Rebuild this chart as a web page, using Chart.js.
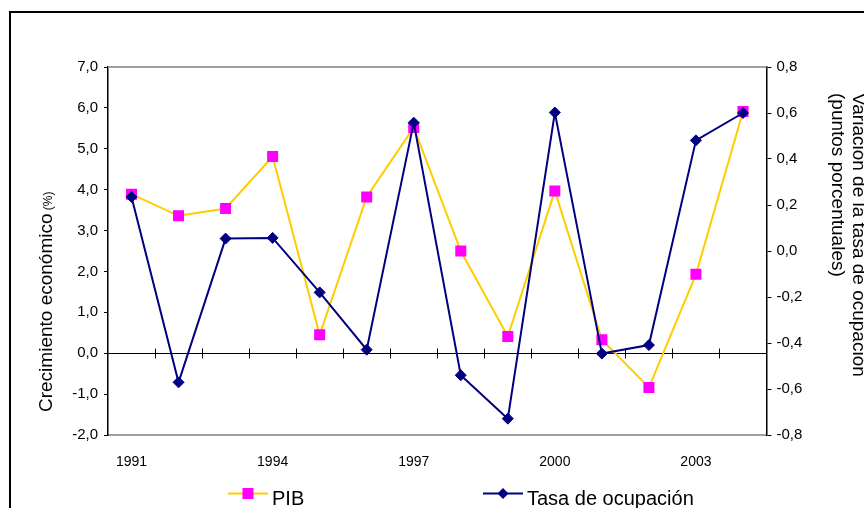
<!DOCTYPE html>
<html>
<head>
<meta charset="utf-8">
<script src="https://cdn.jsdelivr.net/npm/chart.js@4.4.1/dist/chart.umd.min.js"></script>
<style>
  html, body { margin: 0; padding: 0; background: #fff; }
</style>
</head>
<body>
<canvas id="chart" width="864" height="508"></canvas>
<script>
const years = ['1991', '1992', '1993', '1994', '1995', '1996', '1997', '1998', '1999', '2000', '2001', '2002', '2003', '2004'];
const shownYears = ['1991', '1994', '1997', '2000', '2003'];
const pib = [3.89, 3.36, 3.54, 4.81, 0.45, 3.82, 5.52, 2.50, 0.41, 3.97, 0.33, -0.84, 1.93, 5.91];
const tasa = [0.235, -0.571, 0.054, 0.057, -0.180, -0.429, 0.558, -0.540, -0.729, 0.602, -0.446, -0.409, 0.481, 0.600];
const leftRange = [-2, 7, 1];
const rightRange = [-0.8, 0.8, 0.2];

const FONT = '"Liberation Sans", Arial, sans-serif';
const comma = v => v.toFixed(1).replace('.', ',');

const decor = {
  id: 'decor',
  beforeDraw(chart) {
    const ctx = chart.ctx;
    ctx.save();
    ctx.fillStyle = '#fff';
    ctx.fillRect(0, 0, chart.width, chart.height);
    ctx.strokeStyle = '#000';
    ctx.lineWidth = 2;
    ctx.strokeRect(10, 12, 900, 600);
    ctx.restore();
  },
  beforeDatasetsDraw(chart) {
    const { ctx, chartArea: a, scales: { x, y } } = chart;
    ctx.save();
    // top edge of the plot area
    ctx.strokeStyle = '#a0a0a0';
    ctx.lineWidth = 2;
    ctx.beginPath();
    ctx.moveTo(a.left, a.top);
    ctx.lineTo(a.right, a.top);
    ctx.stroke();
    // zero line with a tick between every category
    const y0 = Math.round(y.getPixelForValue(0)) + 0.5;
    ctx.strokeStyle = '#000';
    ctx.lineWidth = 1;
    ctx.beginPath();
    ctx.moveTo(a.left, y0);
    ctx.lineTo(a.right, y0);
    for (let i = 0; i < years.length - 1; i++) {
      const px = Math.round((x.getPixelForValue(i) + x.getPixelForValue(i + 1)) / 2) + 0.5;
      ctx.moveTo(px, y0 - 5);
      ctx.lineTo(px, y0 + 5);
    }
    ctx.stroke();
    ctx.restore();
  },
  afterDraw(chart) {
    const ctx = chart.ctx;
    ctx.save();
    ctx.fillStyle = '#000';
    ctx.textAlign = 'left';
    ctx.textBaseline = 'alphabetic';

    // left axis title, with a smaller "(%)"
    ctx.save();
    ctx.translate(52, 412);
    ctx.rotate(-Math.PI / 2);
    ctx.font = '19px ' + FONT;
    const main = 'Crecimiento económico';
    ctx.fillText(main, 0, 0);
    const w = ctx.measureText(main).width;
    ctx.font = '12px ' + FONT;
    ctx.fillText(' (%)', w, 0);
    ctx.restore();

    // right axis title
    ctx.save();
    ctx.translate(0, 93);
    ctx.rotate(Math.PI / 2);
    ctx.font = '19px ' + FONT;
    ctx.fillText('Variación de la tasa de ocupación', 0, -853);
    ctx.fillText('(puntos porcentuales)', 0, -832);
    ctx.restore();

    // legend
    const items = [
      { ds: chart.data.datasets[0], x: 228 },
      { ds: chart.data.datasets[1], x: 483 }
    ];
    const ly = 493.5;
    items.forEach(it => {
      const ds = it.ds;
      ctx.strokeStyle = ds.borderColor;
      ctx.lineWidth = 2;
      ctx.beginPath();
      ctx.moveTo(it.x, ly);
      ctx.lineTo(it.x + 40, ly);
      ctx.stroke();
      const cx = it.x + 20;
      ctx.fillStyle = ds.pointBackgroundColor;
      if (ds.pointStyle === 'rect') {
        ctx.fillRect(cx - 5.5, ly - 5.5, 11, 11);
      } else {
        ctx.beginPath();
        ctx.moveTo(cx - 5.5, ly);
        ctx.lineTo(cx, ly - 5.5);
        ctx.lineTo(cx + 5.5, ly);
        ctx.lineTo(cx, ly + 5.5);
        ctx.closePath();
        ctx.fill();
      }
      ctx.fillStyle = '#000';
      ctx.font = '20px ' + FONT;
      ctx.fillText(ds.label, it.x + 44, 505);
    });
    ctx.restore();
  }
};

new Chart(document.getElementById('chart'), {
  type: 'line',
  data: {
    labels: years,
    datasets: [
      {
        label: 'PIB',
        data: pib,
        yAxisID: 'y',
        borderColor: '#FFCC00',
        borderWidth: 2,
        pointStyle: 'rect',
        pointRadius: 7.8,
        pointBackgroundColor: '#FF00FF',
        pointBorderColor: '#FF00FF',
        pointBorderWidth: 0,
        tension: 0,
        order: 2
      },
      {
        label: 'Tasa de ocupación',
        data: tasa,
        yAxisID: 'y1',
        borderColor: '#000080',
        borderWidth: 2,
        pointStyle: 'rectRot',
        pointRadius: 5.5,
        pointBackgroundColor: '#000080',
        pointBorderColor: '#000080',
        pointBorderWidth: 1,
        tension: 0,
        order: 1
      }
    ]
  },
  options: {
    responsive: false,
    animation: false,
    events: [],
    layout: { padding: { top: 67, left: 0, right: 0, bottom: 13 } },
    plugins: {
      legend: { display: false },
      tooltip: { enabled: false }
    },
    scales: {
      x: {
        type: 'category',
        offset: true,
        grid: { display: false },
        border: { display: true, color: '#a0a0a0', width: 2 },
        ticks: {
          autoSkip: false,
          maxRotation: 0,
          padding: 11,
          color: '#000',
          font: { family: FONT, size: 14 },
          callback: function (v) {
            const lab = this.getLabelForValue(v);
            return shownYears.includes(lab) ? lab : '';
          }
        },
        afterFit: s => { s.height = 60; }
      },
      y: {
        position: 'left',
        min: leftRange[0],
        max: leftRange[1],
        grid: { drawOnChartArea: false, drawTicks: true, tickLength: 4, color: '#000' },
        border: { display: true, color: '#000', width: 1.5 },
        ticks: {
          stepSize: leftRange[2],
          padding: 6,
          color: '#000',
          font: { family: FONT, size: 15 },
          callback: v => comma(v)
        },
        afterFit: s => { s.width = 108; }
      },
      y1: {
        position: 'right',
        min: rightRange[0],
        max: rightRange[1],
        grid: { drawOnChartArea: false, drawTicks: true, tickLength: 5, color: '#000' },
        border: { display: true, color: '#000', width: 1.5 },
        ticks: {
          stepSize: rightRange[2],
          padding: 5,
          color: '#000',
          font: { family: FONT, size: 15 },
          callback: v => comma(Math.round(v * 10) / 10)
        },
        afterFit: s => { s.width = 97.5; }
      }
    }
  },
  plugins: [decor]
});
</script>
</body>
</html>
